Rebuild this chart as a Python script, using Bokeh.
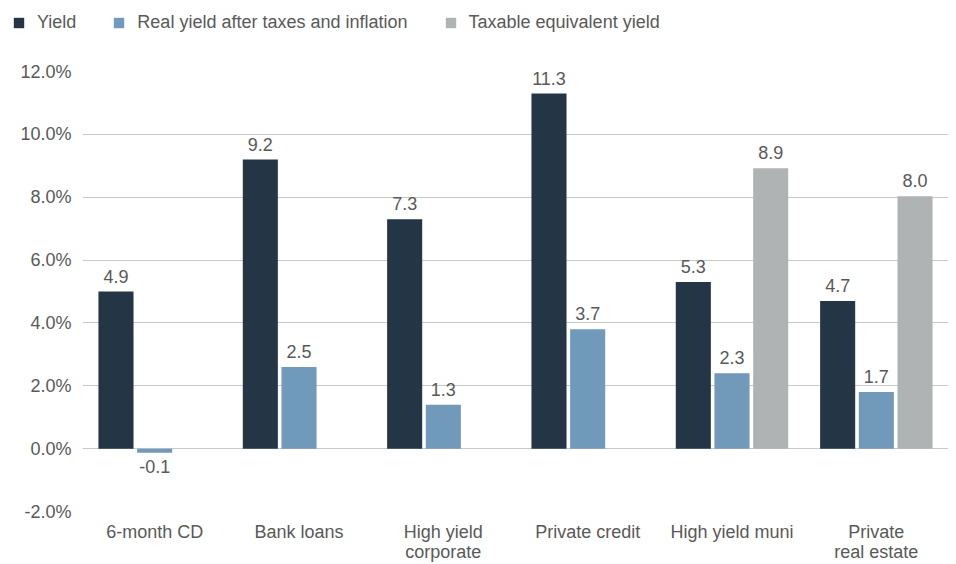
from bokeh.plotting import figure
from bokeh.layouts import column, row
from bokeh.models import ColumnDataSource, FactorRange, Legend, LegendItem, FixedTicker
from bokeh.transform import dodge
from bokeh.core.properties import value
from bokeh.embed import file_html
from bokeh.resources import INLINE

categories = ["6-month CD", "Bank loans", "High yield\ncorporate", "Private credit",
              "High yield muni", "Private\nreal estate"]
yield_vals = [5.0, 9.2, 7.3, 11.3, 5.3, 4.7]
yield_labels = ["4.9", "9.2", "7.3", "11.3", "5.3", "4.7"]
real_vals = [-0.13, 2.6, 1.4, 3.8, 2.4, 1.8]
real_labels = ["-0.1", "2.5", "1.3", "3.7", "2.3", "1.7"]
tey_cats = ["High yield muni", "Private\nreal estate"]
tey_vals = [8.92, 8.03]
tey_labels = ["8.9", "8.0"]
y_ticks = [-2, 0, 2, 4, 6, 8, 10, 12]
series_names = ["Yield", "Real yield after taxes and inflation", "Taxable equivalent yield"]
colors = ["#243646", "#7099ba", "#b0b3b4"]

FONT = "Liberation Sans"
TXT = "#595959"

p = figure(x_range=FactorRange(*categories, range_padding=0), y_range=(-2, 12),
           width=948, height=530, output_backend="svg",
           toolbar_location=None, min_border_left=82, min_border_top=37,
           min_border_right=0, min_border_bottom=53)
p.outline_line_color = None
p.background_fill_color = "white"

def src(cats, vals, labels):
    return ColumnDataSource(dict(
        x=cats, top=vals, label=labels,
        yoff=[-9 if v >= 0 else 7 for v in vals],
        base=["bottom" if v >= 0 else "top" for v in vals]))

s1 = src(categories, yield_vals, yield_labels)
s2 = src(categories, real_vals, real_labels)
s3 = src(tey_cats, tey_vals, tey_labels)

W = 0.243
OFF = 0.268
r1 = p.vbar(x=dodge("x", -OFF, range=p.x_range), top="top", bottom=0, width=W, source=s1,
            fill_color=colors[0], line_color=None)
r2 = p.vbar(x=dodge("x", 0, range=p.x_range), top="top", bottom=0, width=W, source=s2,
            fill_color=colors[1], line_color=None)
r3 = p.vbar(x=dodge("x", OFF, range=p.x_range), top="top", bottom=0, width=W, source=s3,
            fill_color=colors[2], line_color=None)

for s, off in ((s1, -OFF), (s2, 0), (s3, OFF)):
    p.text(x=dodge("x", off, range=p.x_range), y="top", text="label", source=s,
           y_offset="yoff", text_baseline="base", text_align="center",
           text_font=value(FONT), text_font_size="18px", text_color=TXT)

p.xgrid.grid_line_color = None
p.ygrid.grid_line_color = "#c8c8c8"
p.ygrid.grid_line_width = 1
p.yaxis.ticker = FixedTicker(ticks=y_ticks)
p.yaxis.major_label_overrides = {t: f"{t:.1f}%" for t in y_ticks}

for ax in (p.xaxis[0], p.yaxis[0]):
    ax.axis_line_color = None
    ax.major_tick_line_color = None
    ax.minor_tick_line_color = None
    ax.major_tick_out = 0
    ax.major_label_text_font = FONT
    ax.major_label_text_font_size = "18px"
    ax.major_label_text_color = TXT
p.yaxis.major_label_standoff = 11
p.xaxis.major_label_standoff = 10
p.xaxis.major_label_text_line_height = 1.0

# legend strip above the chart
lf = figure(width=948, height=34, x_range=(0, 948), y_range=(0, 34), output_backend="svg",
            toolbar_location=None, min_border=0)
lf.axis.visible = False
lf.grid.visible = False
lf.outline_line_color = None
lr = [lf.vbar(x=[5000], top=[1], width=1, fill_color=c, line_color=None) for c in colors]
legend = Legend(items=[LegendItem(label=n, renderers=[r]) for n, r in zip(series_names, lr)],
                orientation="horizontal", location=(12, 1),
                glyph_width=13, glyph_height=13, label_standoff=12, spacing=36,
                label_height=20, label_text_baseline="middle",
                label_text_font=FONT, label_text_font_size="18px", label_text_color=TXT,
                border_line_color=None, padding=0, margin=0, background_fill_alpha=0)
lf.add_layout(legend, "center")

layout = column(row(lf, spacing=0), p, spacing=0)
open("out.html", "w").write(file_html(layout, INLINE))
